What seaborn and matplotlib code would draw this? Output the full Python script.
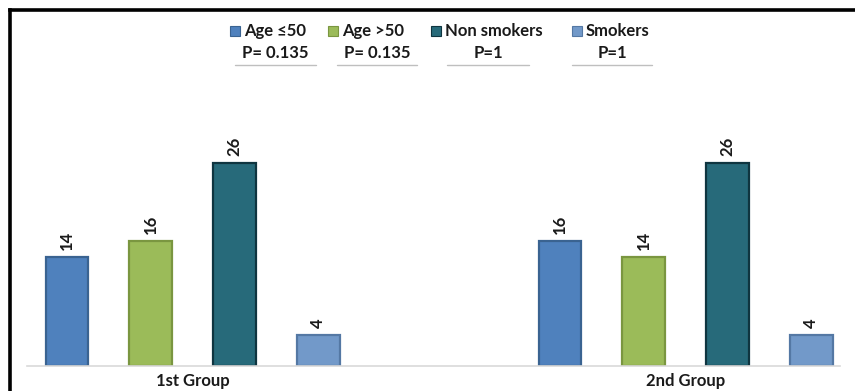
import matplotlib
matplotlib.use("Agg")
import matplotlib.pyplot as plt
from matplotlib.lines import Line2D
from matplotlib.patches import Rectangle
import seaborn as sns
import pandas as pd

groups = ["1st Group", "2nd Group"]
categories = ["Age ≤50", "Age >50", "Non smokers", "Smokers"]
first_group = [14, 16, 26, 4]
second_group = [16, 14, 26, 4]
p_values = ["P= 0.135", "P= 0.135", "P=1", "P=1"]

fills = ["#4F81BD", "#9BBB59", "#276A7A", "#7299C9"]
edges = ["#3A6391", "#7A9640", "#0F3540", "#5478A4"]

df = pd.DataFrame({
    "group": [groups[0]] * 4 + [groups[1]] * 4,
    "category": categories * 2,
    "count": first_group + second_group,
})

sns.set_theme(style="white")
plt.rcParams["font.family"] = ["Lato", "DejaVu Sans"]

W, H = 855, 391
fig = plt.figure(figsize=(W / 100, H / 100), dpi=100)
ax = fig.add_axes([27 / W, 25 / H, 813 / W, 234 / H])

sns.barplot(data=df, x="group", y="count", hue="category", order=groups,
            hue_order=categories, palette=fills, width=0.68, gap=0.49,
            saturation=1, linewidth=1.6, ax=ax, legend=False)

# darker outline per series, value labels above each bar
for cont, ec in zip(ax.containers, edges):
    for bar in cont:
        bar.set_edgecolor(ec)
    ax.bar_label(cont, labels=[f"{int(v)}" for v in cont.datavalues],
                 rotation=90, padding=5, fontsize=12, fontweight="bold",
                 color="#1a1a1a")

ax.set_xlim(-0.336, 1.313)
ax.set_ylim(0, 30)
ax.set_xlabel("")
ax.set_ylabel("")
ax.set_yticks([])
for s in ["top", "right", "left"]:
    ax.spines[s].set_visible(False)
ax.spines["bottom"].set_color("#D9D9D9")
ax.spines["bottom"].set_linewidth(1.2)
ax.tick_params(axis="x", length=0, pad=5)
for t in ax.get_xticklabels():
    t.set_fontsize(12)
    t.set_fontweight("bold")
    t.set_color("#1a1a1a")

# legend row across the top: colour key + series name
key_x = [230, 328, 431, 572]
leg_y = 31
for x, name, fc, ec in zip(key_x, categories, fills, edges):
    fig.add_artist(Rectangle((x / W, 1 - (leg_y + 5) / H), 10 / W, 10 / H,
                             transform=fig.transFigure, facecolor=fc,
                             edgecolor=ec, lw=0.8))
    fig.text((x + 14) / W, 1 - leg_y / H, name, ha="left", va="center",
             fontsize=12, fontweight="bold", color="#1a1a1a")

# p-values with underlines
p_spans = [(235, 316), (337, 417), (447, 529), (572, 652)]
for txt, (x0, x1) in zip(p_values, p_spans):
    fig.text((x0 + x1) / 2 / W, 1 - 53 / H, txt, ha="center", va="center",
             fontsize=12, fontweight="bold", color="#1a1a1a")
    fig.add_artist(Line2D([x0 / W, x1 / W], [1 - 65 / H, 1 - 65 / H],
                          transform=fig.transFigure, color="#BFBFBF", lw=1))

# outer frame on the left and top
fig.add_artist(Line2D([10 / W, 10 / W], [0, 1 - 10 / H], transform=fig.transFigure,
                      color="black", lw=2.6, solid_capstyle="projecting"))
fig.add_artist(Line2D([10 / W, 1], [1 - 10 / H, 1 - 10 / H], transform=fig.transFigure,
                      color="black", lw=2.6, solid_capstyle="projecting"))

fig.savefig("out.png", dpi=100)
